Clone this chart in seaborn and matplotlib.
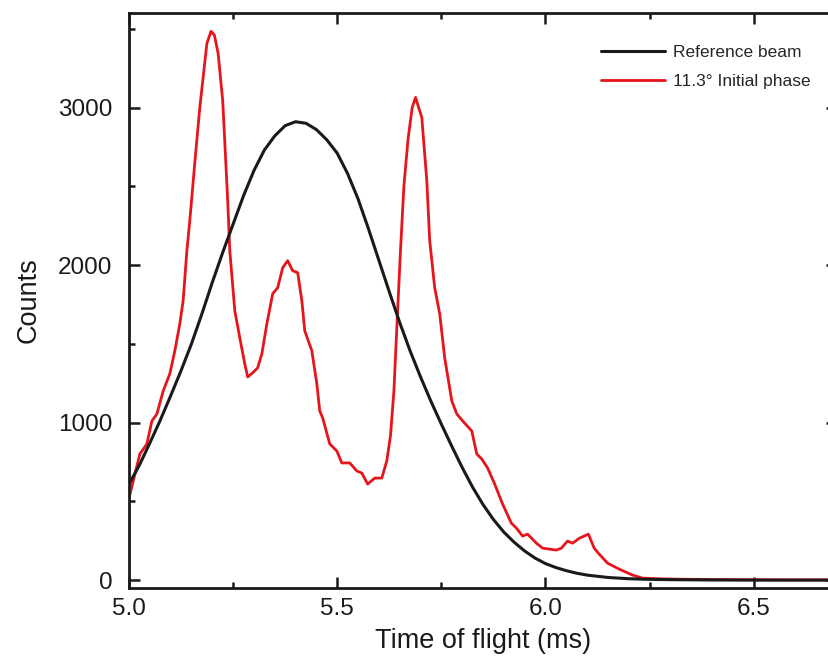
import pandas as pd
import seaborn as sns
import matplotlib.pyplot as plt
from matplotlib.ticker import MultipleLocator

# Reference beam
ref_t = [5.000, 5.025, 5.050, 5.075, 5.100, 5.125, 5.150, 5.175, 5.200, 5.225,
         5.250, 5.275, 5.300, 5.325, 5.350, 5.375, 5.400, 5.425, 5.450, 5.475,
         5.500, 5.525, 5.550, 5.575, 5.600, 5.625, 5.650, 5.675, 5.700, 5.725,
         5.750, 5.775, 5.800, 5.825, 5.850, 5.875, 5.900, 5.925, 5.950, 5.975,
         6.000, 6.025, 6.050, 6.075, 6.100, 6.150, 6.200, 6.250, 6.300, 6.400,
         6.500, 6.700]
ref_counts = [610, 730, 870, 1015, 1170, 1330, 1500, 1690, 1890, 2080,
              2260, 2440, 2600, 2730, 2820, 2885, 2910, 2900, 2860, 2795,
              2710, 2580, 2420, 2230, 2030, 1830, 1635, 1455, 1290, 1135,
              990, 850, 715, 590, 480, 385, 305, 240, 185, 140,
              105, 80, 60, 44, 32, 17, 9, 5, 3, 1,
              0, 0]

# 11.3 deg initial phase
phase_t = [5.000, 5.013, 5.026, 5.043, 5.055, 5.067, 5.082, 5.098, 5.110, 5.122,
           5.130, 5.139, 5.146, 5.158, 5.170, 5.187, 5.197, 5.205, 5.214, 5.225,
           5.237, 5.242, 5.254, 5.266, 5.278, 5.285, 5.297, 5.309, 5.319, 5.331,
           5.345, 5.357, 5.369, 5.381, 5.393, 5.405, 5.415, 5.422, 5.439, 5.451,
           5.458, 5.465, 5.482, 5.499, 5.511, 5.530, 5.547, 5.559, 5.573, 5.590,
           5.607, 5.619, 5.628, 5.636, 5.643, 5.652, 5.660, 5.670, 5.680, 5.688,
           5.703, 5.715, 5.722, 5.734, 5.746, 5.758, 5.775, 5.787, 5.801, 5.823,
           5.835, 5.847, 5.861, 5.878, 5.897, 5.918, 5.930, 5.945, 5.957, 5.978,
           5.993, 6.026, 6.038, 6.053, 6.065, 6.082, 6.103, 6.117, 6.129, 6.149,
           6.177, 6.209, 6.233, 6.280, 6.320, 6.400, 6.500, 6.600, 6.700]
phase_counts = [520, 660, 800, 865, 1010, 1055, 1200, 1310, 1455, 1627,
                1774, 2092, 2282, 2650, 3000, 3407, 3484, 3460, 3344, 3045,
                2409, 2092, 1710, 1538, 1373, 1290, 1316, 1348, 1437, 1627,
                1818, 1856, 1983, 2028, 1964, 1952, 1774, 1583, 1456, 1246,
                1074, 1030, 865, 820, 744, 744, 693, 680, 610, 648,
                648, 757, 920, 1200, 1600, 2100, 2500, 2800, 3000, 3064,
                2937, 2537, 2155, 1856, 1691, 1411, 1138, 1055, 1011, 947,
                801, 769, 712, 610, 483, 362, 331, 280, 292, 235,
                203, 191, 203, 248, 235, 267, 292, 203, 165, 108,
                70, 32, 13, 8, 6, 4, 3, 2, 2]

ref_df = pd.DataFrame({"t": ref_t, "counts": ref_counts})
phase_df = pd.DataFrame({"t": phase_t, "counts": phase_counts})

sns.set_style("ticks")
plt.rcParams["font.family"] = ["Liberation Sans", "DejaVu Sans"]

fig = plt.figure(figsize=(8.29, 6.61), dpi=100)
ax = fig.add_axes([0.1556, 0.1104, 1.0097 - 0.1556, 0.9803 - 0.1104])

sns.lineplot(data=phase_df, x="t", y="counts", ax=ax, color="#e8141c",
             linewidth=2.0, label="11.3° Initial phase", zorder=2)
sns.lineplot(data=ref_df, x="t", y="counts", ax=ax, color="#1a1a1a",
             linewidth=2.2, label="Reference beam", zorder=3)

ax.set_xlim(5.0, 6.70)
ax.set_ylim(-50, 3600)
ax.xaxis.set_major_locator(MultipleLocator(0.5))
ax.xaxis.set_minor_locator(MultipleLocator(0.25))
ax.yaxis.set_major_locator(MultipleLocator(1000))
ax.yaxis.set_minor_locator(MultipleLocator(500))
ax.xaxis.set_major_formatter(plt.FormatStrFormatter("%.1f"))

for s in ax.spines.values():
    s.set_visible(True)
    s.set_linewidth(2.0)
    s.set_color("#1a1a1a")
ax.tick_params(which="both", direction="in", top=True, right=True,
               width=1.8, color="#1a1a1a", labelsize=17.5, labelcolor="#1a1a1a")
ax.tick_params(which="major", length=8)
ax.tick_params(which="minor", length=4)
ax.tick_params(axis="y", which="major", pad=12)
ax.tick_params(axis="x", which="major", pad=7)

ax.set_xlabel("Time of flight (ms)", fontsize=19.5, color="#1a1a1a", labelpad=6)
ax.set_ylabel("Counts", fontsize=19.5, color="#1a1a1a", labelpad=12)

handles, labels = ax.get_legend_handles_labels()
ax.legend(handles[::-1], labels[::-1], frameon=False, fontsize=12.5,
          loc="upper left", bbox_to_anchor=(601 / 829, 1 - 45 / 661),
          bbox_transform=fig.transFigure, borderpad=0, borderaxespad=0,
          handlelength=3.7, handletextpad=0.45, labelspacing=0.8)

fig.savefig("out.png", dpi=100)
